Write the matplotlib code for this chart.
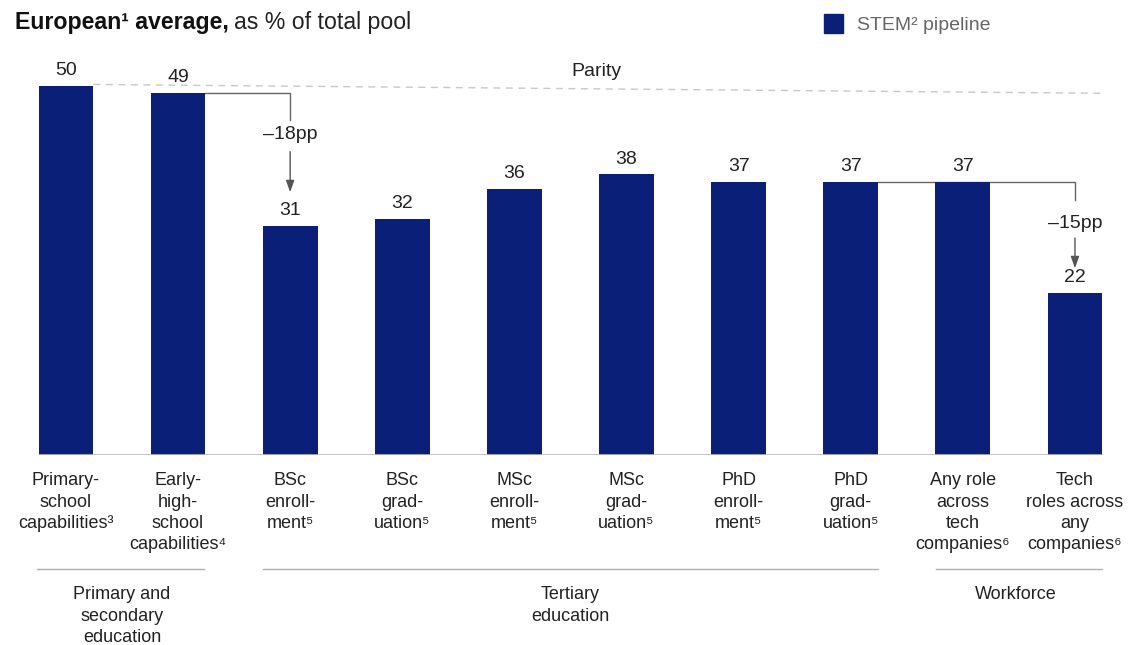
import matplotlib
matplotlib.use('Agg')
import matplotlib.pyplot as plt

plt.rcParams['font.family'] = ['Liberation Sans', 'DejaVu Sans']

# data
categories = ['Primary-\nschool\ncapabilities³', 'Early-\nhigh-\nschool\ncapabilities⁴',
              'BSc\nenroll-\nment⁵', 'BSc\ngrad-\nuation⁵', 'MSc\nenroll-\nment⁵',
              'MSc\ngrad-\nuation⁵', 'PhD\nenroll-\nment⁵', 'PhD\ngrad-\nuation⁵',
              'Any role\nacross\ntech\ncompanies⁶', 'Tech\nroles across\nany\ncompanies⁶']
values = [50, 49, 31, 32, 36, 38, 37, 37, 37, 22]
groups = ['Primary and\nsecondary\neducation', 'Tertiary\neducation', 'Workforce']
drops = [(1, 2, '–18pp'), (7, 9, '–15pp')]

navy = '#0a1f78'
txt = '#222222'

fig = plt.figure(figsize=(11.28, 6.45), dpi=100)
ax = fig.add_axes([39/1128, 190/645, 1064/1128, 406/645])
x = list(range(len(values)))
ax.bar(x, values, width=0.49, color=navy, zorder=3)
ax.set_xlim(-0.24, 9.25)
ax.set_ylim(0, 55)
for s in ax.spines.values():
    s.set_visible(False)
ax.set_xticks([]); ax.set_yticks([])
ax.axhline(0, color='#bbbbbb', lw=1.2, zorder=4)

for i, v in enumerate(values):
    ax.annotate(str(v), (i, v), xytext=(0, 5), textcoords='offset points',
                ha='center', va='bottom', fontsize=14, color=txt)

# parity line
ax.plot([0.245, 9.25], [50.2, 49.0], ls=(0, (5, 4)), color='#c8c8c8', lw=1, zorder=2)
ax.text(4.73, 52.0, 'Parity', ha='center', va='center', fontsize=14, color=txt)

# drop connectors (line end, arrow start, arrow tip offsets)
offs = [(3.6, 7.9, 4.6), (2.5, 7.6, 3.3)]
for (a, b, lab), (e, s0, tip) in zip(drops, offs):
    top, low = values[a], values[b]
    ax.plot([a + 0.245, b, b], [top, top, top - e], color='#666666', lw=1, zorder=2)
    ax.text(b, top - 5.65, lab, ha='center', va='center', fontsize=14, color=txt)
    ax.annotate('', xy=(b, low + tip), xytext=(b, top - s0),
                arrowprops=dict(arrowstyle='-|>,head_width=0.25,head_length=0.7',
                                color='#555555', lw=1, shrinkA=0, shrinkB=0))

# category labels
for i, c in enumerate(categories):
    ax.text(i, -2.35, c, ha='center', va='top', fontsize=13, color=txt,
            linespacing=1.32)

# group lines and labels
line_x = [(-0.26, 1.23), (1.76, 7.24), (7.76, 9.24)]
label_x = [0.5, 4.5, 8.47]
for (x0, x1), lx, g in zip(line_x, label_x, groups):
    ax.plot([x0, x1], [-15.4, -15.4], color='#b0b0b0', lw=1, clip_on=False)
    ax.text(lx, -17.8, g, ha='center', va='top', fontsize=13, color=txt,
            linespacing=1.32)

# title
t1 = fig.text(15/1128, 1 - 22/645, 'European¹ average,', fontsize=16.7, fontweight='bold',
              color='#111111', va='center', ha='left')
fig.canvas.draw()
bb = t1.get_window_extent()
fig.text((bb.x1 + 5) / 1128, 1 - 22/645, 'as % of total pool', fontsize=16.7,
         color='#222222', va='center', ha='left')

# legend
fig.patches.append(plt.Rectangle((824/1128, 1 - 33/645), 19/1128, 19/645,
                                 transform=fig.transFigure, color=navy))
fig.text(857/1128, 1 - 26/645, 'STEM² pipeline', fontsize=14, color='#666666',
         va='center', ha='left')

fig.savefig('out.png', dpi=100)
